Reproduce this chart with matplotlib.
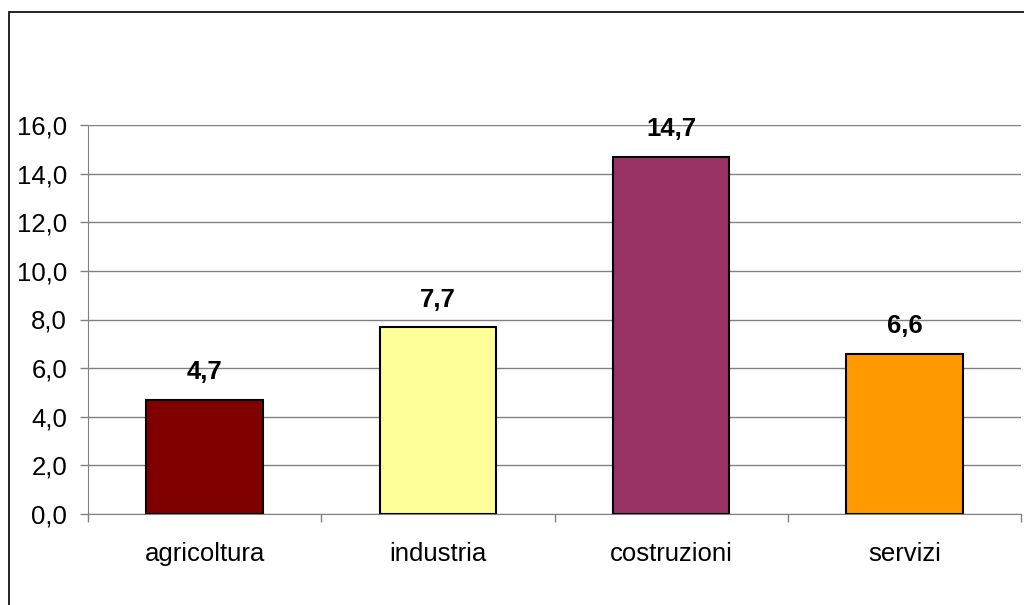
import matplotlib.pyplot as plt
import matplotlib.patches as mpatches
import numpy as np

plt.rcParams['font.family'] = ['Liberation Sans', 'DejaVu Sans']

categorie = ['agricoltura', 'industria', 'costruzioni', 'servizi']
valori = [4.7, 7.7, 14.7, 6.6]
colori = ['#800000', '#FFFF99', '#993366', '#FF9900']
yticks = np.arange(0, 16.1, 2)

fig = plt.figure(figsize=(10.24, 6.05), dpi=100)
ax = fig.add_axes([88/1024, 91/605, (1021-88)/1024, (514-125)/605])

# cornice esterna
fig.patches.append(mpatches.Rectangle((9/1024, -0.05), 1.2, 1.05 - 12/605,
                                      transform=fig.transFigure, fill=False,
                                      edgecolor='black', linewidth=1.2))

x = np.arange(len(categorie))
ax.bar(x, valori, width=0.5, color=colori, edgecolor='black', linewidth=1.5, zorder=3)

for xi, v in zip(x, valori):
    ax.annotate(('%.1f' % v).replace('.', ','), (xi, v), xytext=(0, 11),
                textcoords='offset points', ha='center', va='bottom',
                fontsize=18.5, fontweight='bold')

ax.set_xlim(-0.5, 3.5)
ax.set_ylim(0, 16)
ax.set_yticks(yticks)
ax.set_yticklabels([('%.1f' % t).replace('.', ',') for t in yticks], fontsize=18.5)
ax.yaxis.grid(True, color='#808080', linewidth=1)
ax.set_axisbelow(True)

ax.set_xticks(x)
ax.set_xticklabels(categorie, fontsize=18.5)
ax.set_xticks(np.arange(-0.5, 4, 1), minor=True)
ax.tick_params(axis='x', which='major', length=0, pad=20)
ax.tick_params(axis='x', which='minor', length=6, color='#808080', width=1)
ax.tick_params(axis='y', length=6, color='#808080', width=1, pad=9)

for s in ['top', 'right']:
    ax.spines[s].set_visible(False)
ax.spines['left'].set_color('#808080')
ax.spines['bottom'].set_color('#808080')

plt.savefig('out.png', dpi=100)
